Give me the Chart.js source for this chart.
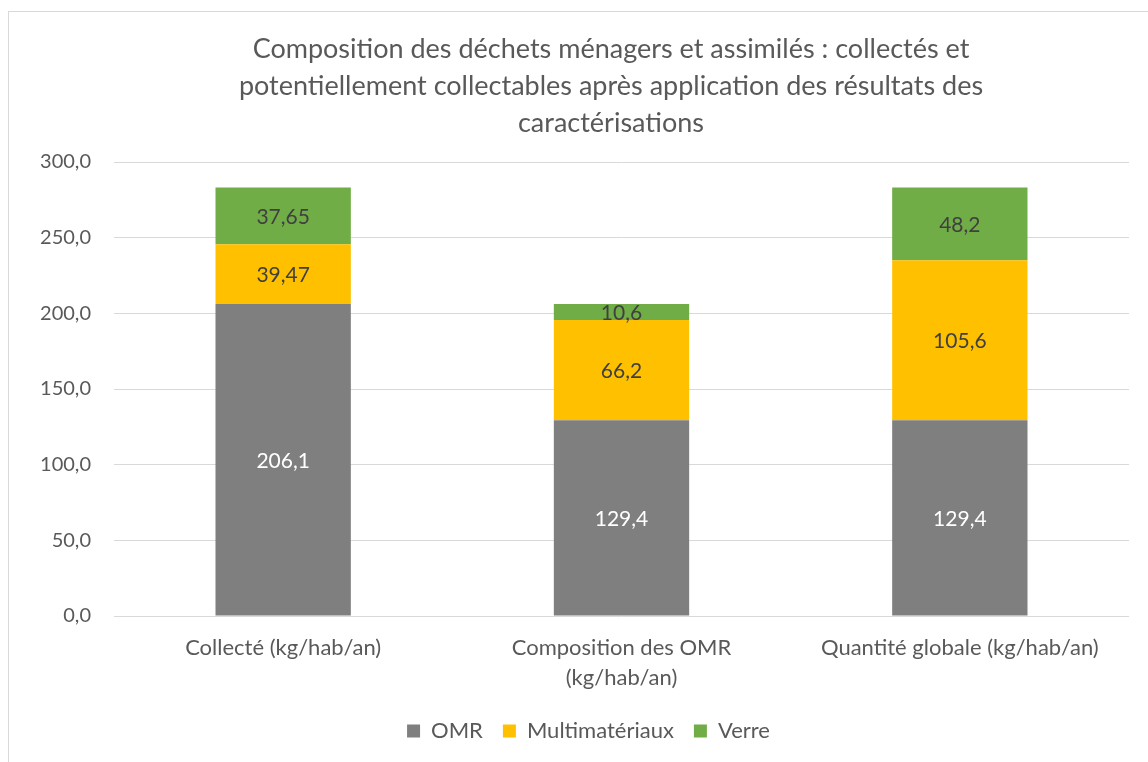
<!DOCTYPE html>
<html>
<head>
<meta charset="utf-8">
<script src="https://cdn.jsdelivr.net/npm/chart.js@4.4.0/dist/chart.umd.min.js"></script>
<style>
  html, body { margin: 0; padding: 0; background: #fff; overflow: hidden; }
  #wrap { position: relative; width: 1148px; height: 762px; }
  #frame { position: absolute; left: 8px; top: 11px; width: 1200px; height: 800px; border: 1px solid #d9d9d9; }
  #chart { position: absolute; left: 0; top: 0; }
</style>
</head>
<body>
<div id="wrap">
  <div id="frame"></div>
  <canvas id="chart" width="1148" height="762"></canvas>
</div>
<script>
	'use strict';

	// Data
	const categories = ['Collecté (kg/hab/an)', ['Composition des OMR', '(kg/hab/an)'], 'Quantité globale (kg/hab/an)'];
	const omr = [206.1, 129.4, 129.4];
	const multimateriaux = [39.47, 66.2, 105.6];
	const verre = [37.65, 10.6, 48.2];
	const titleLines = [
		'Composition des déchets ménagers et assimilés : collectés et',
		'potentiellement collectables après application des résultats des',
		'caractérisations'
	];

	const FONT = 'Lato, "Noto Sans", sans-serif';
	const TEXT = '#595959';

	/**
	 * Draw the three-line title at fixed place
	 */
	const titlePlugin = {
		id: 'fixedTitle',
		afterDraw: function(chart) {
			const ctx = chart.ctx;
			ctx.save();
			ctx.font = '27px ' + FONT;
			ctx.fillStyle = TEXT;
			ctx.textAlign = 'center';
			ctx.textBaseline = 'middle';
			titleLines.forEach(function(line, i) {
				ctx.fillText(line, 611, 49 + i * 37);
			});
			ctx.restore();
		}
	};

	/**
	 * Value labels in the middle of each segment
	 */
	const valueLabels = {
		id: 'valueLabels',
		afterDatasetsDraw: function(chart) {
			const ctx = chart.ctx;
			ctx.save();
			ctx.font = '21px ' + FONT;
			ctx.textAlign = 'center';
			ctx.textBaseline = 'middle';
			chart.data.datasets.forEach(function(ds, di) {
				const meta = chart.getDatasetMeta(di);
				meta.data.forEach(function(bar, i) {
					const v = ds.data[i];
					ctx.fillStyle = di === 0 ? '#ffffff' : '#404040';
					ctx.fillText(String(v).replace('.', ','), bar.x, (bar.y + bar.base) / 2 + 1);
				});
			});
			ctx.restore();
		}
	};

	/**
	 * Nudge legend to the right (reference centres it on the whole frame)
	 */
	const legendShift = {
		id: 'legendShift',
		afterLayout: function(chart) {
			if (chart.legend) {
				chart.legend.left += 24;
				chart.legend.right += 24;
			}
		}
	};

	new Chart(document.getElementById('chart'), {
		type: 'bar',
		data: {
			labels: categories,
			datasets: [
				{ label: 'OMR', data: omr, backgroundColor: '#7f7f7f' },
				{ label: 'Multimatériaux', data: multimateriaux, backgroundColor: '#ffc000' },
				{ label: 'Verre', data: verre, backgroundColor: '#70ad47' }
			]
		},
		options: {
			responsive: false,
			animation: false,
			devicePixelRatio: 1,
			barPercentage: 0.4,
			categoryPercentage: 1,
			layout: {
				padding: { top: 162, left: 0, right: 19, bottom: 10 }
			},
			plugins: {
				legend: {
					position: 'bottom',
					labels: {
						font: { family: FONT, size: 22 },
						color: TEXT,
						boxWidth: 13,
						boxHeight: 13,
						padding: 20
					}
				},
				tooltip: { enabled: false },
				title: { display: false }
			},
			scales: {
				x: {
					stacked: true,
					grid: { display: false },
					border: { display: false },
					ticks: {
						color: TEXT,
						font: { family: FONT, size: 22, lineHeight: 1.36 },
						padding: 9,
						maxRotation: 0
					},
					afterFit: function(scale) { scale.height = 84; }
				},
				y: {
					stacked: true,
					min: 0,
					max: 300,
					border: { display: false },
					grid: { color: '#d9d9d9', lineWidth: 1, drawTicks: false },
					ticks: {
						stepSize: 50,
						color: TEXT,
						padding: 23,
						font: { family: FONT, size: 20 },
						callback: function(value) {
							return value.toFixed(1).replace('.', ',');
						}
					},
					afterFit: function(scale) { scale.width = 114; }
				}
			}
		},
		plugins: [titlePlugin, valueLabels, legendShift]
	});
</script>
</body>
</html>
